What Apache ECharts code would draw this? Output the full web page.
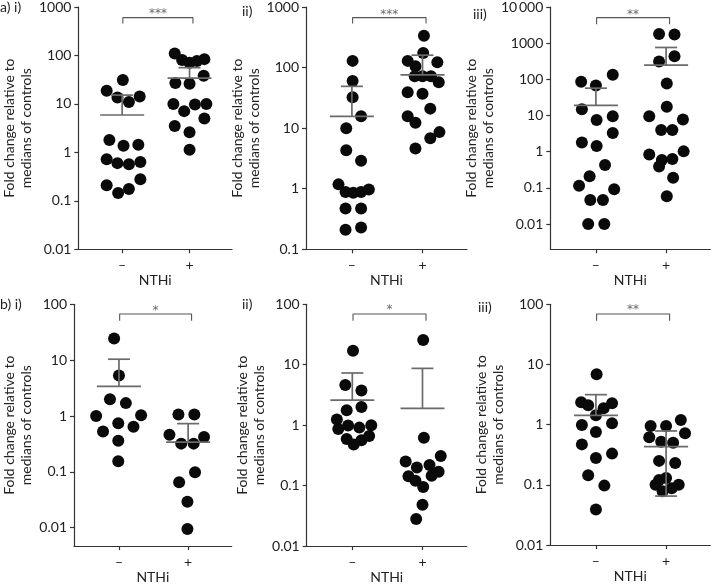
<!DOCTYPE html>
<html>
<head>
<meta charset="utf-8">
<script src="https://cdn.jsdelivr.net/npm/echarts@6/dist/echarts.min.js"></script>
<style>
html,body{margin:0;padding:0;background:#fff;}
#chart{width:714px;height:586px;}
</style>
</head>
<body>
<div id="chart"></div>
<script>
// ---------- text ----------
const panelLabels = ['a) i)', 'ii)', 'iii)', 'b) i)', 'ii)', 'iii)'];
const categories = ['\u2013', '+'];
const xAxisTitle = 'NTHi';
const yAxisTitle = 'Fold change relative to\nmedians of controls';
const significance = ['***', '***', '**', '*', '*', '**'];

// ---------- y tick values ----------
const a1Ticks = [0.01, 0.1, 1, 10, 100, 1000];
const a2Ticks = [0.1, 1, 10, 100, 1000];
const a3Ticks = [0.01, 0.1, 1, 10, 100, 1000, 10000];
const b1Ticks = [0.01, 0.1, 1, 10, 100];
const b2Ticks = [0.01, 0.1, 1, 10, 100];
const b3Ticks = [0.01, 0.1, 1, 10, 100];

// ---------- a) i) ----------
const a1NegValues = [31, 18.6, 13.6, 11, 14.2, 1.8, 1.37, 1.44, 0.72, 0.60, 0.57, 0.63, 0.28, 0.21, 0.145, 0.176];
const a1NegJitter = [0.01, -0.23, -0.07, 0.1, 0.26, -0.19, 0.02, 0.24, -0.23, -0.07, 0.1, 0.27, 0.27, -0.23, -0.06, 0.1];
const a1PosValues = [110, 81, 71, 77, 84, 38, 27, 26, 10, 9.7, 10, 7.1, 5.0, 3.5, 2.6, 1.13];
const a1PosJitter = [-0.22, -0.11, 0, 0.11, 0.22, 0.21, -0.21, 0, -0.24, 0.08, 0.25, -0.08, 0.22, -0.22, 0, 0];
const a1Stats = [[5.9, 15.2, null], [34, 56, null]]; // mean, mean+SD, mean-SD
const a1Bracket = [455, 603, 815]; // end, bar, stars

// ---------- a) ii) ----------
const a2NegValues = [129, 60, 32.4, 15.7, 10, 4.3, 2.9, 1.18, 0.88, 0.86, 0.88, 0.97, 0.47, 0.47, 0.21, 0.23];
const a2NegJitter = [0.01, 0.01, 0.01, 0.13, -0.08, -0.08, 0.13, -0.19, -0.09, 0.02, 0.13, 0.24, -0.09, 0.13, -0.09, 0.13];
const a2PosValues = [335, 174, 129, 105, 122, 72, 72, 72, 57, 39, 37, 21, 15.7, 12.3, 8.6, 6.8, 4.6];
const a2PosJitter = [0.02, 0.01, -0.21, -0.1, 0.21, -0.11, 0, 0.12, 0.23, -0.21, 0, 0.11, -0.21, -0.1, 0.24, 0.11, -0.1];
const a2Stats = [[15.7, 49, null], [76, 160, null]];
const a2Bracket = [532, 668, 828];

// ---------- a) iii) ----------
const a3NegValues = [133, 86, 68, 15, 9.6, 7.5, 3.3, 1.8, 1.43, 0.43, 0.21, 0.115, 0.091, 0.046, 0.046, 0.01, 0.01];
const a3NegJitter = [0.24, -0.21, 0, -0.2, 0.24, 0.01, 0.24, -0.2, 0.01, 0.13, -0.09, -0.24, 0.26, -0.08, 0.1, -0.11, 0.12];
const a3PosValues = [1800, 1730, 437, 310, 77, 17.4, 9.6, 7.8, 4.0, 4.0, 0.83, 1.02, 0.39, 0.59, 0.63, 0.19, 0.059];
const a3PosJitter = [-0.1, 0.12, 0.12, -0.1, 0.01, 0.01, -0.24, 0.24, -0.07, 0.09, -0.24, 0.25, -0.1, -0.06, 0.09, 0.1, 0.01];
const a3Stats = [[19, 57, null], [246, 760, null]];
const a3Bracket = [3320, 5100, 7280];

// ---------- b) i) ----------
const b1NegValues = [24.3, 5.3, 2.0, 1.7, 1.0, 1.03, 0.74, 0.53, 0.64, 0.36, 0.155];
const b1NegJitter = [-0.07, 0, -0.13, 0.1, -0.33, 0.32, -0.01, -0.23, 0.21, -0.01, -0.01];
const b1PosValues = [1.06, 1.06, 0.46, 0.42, 0.32, 0.32, 0.098, 0.065, 0.029, 0.0095];
const b1PosJitter = [-0.14, 0.09, -0.27, 0.23, -0.1, 0.08, 0.1, -0.13, -0.01, -0.01];
const b1Stats = [[3.4, 10.4, null], [0.34, 0.73, null]];
const b1Bracket = [51, 67, 88];

// ---------- b) ii) ----------
const b2NegValues = [17, 4.6, 3.76, 1.77, 1.99, 1.24, 0.99, 0.86, 0.91, 1.0, 0.59, 0.48, 0.56, 0.66];
const b2NegJitter = [0.01, -0.1, 0.13, -0.08, 0.13, -0.22, -0.06, -0.2, 0.1, 0.27, -0.08, 0.02, 0.13, 0.24];
const b2PosValues = [25.6, 0.62, 0.25, 0.20, 0.22, 0.31, 0.143, 0.12, 0.095, 0.145, 0.17, 0.048, 0.028];
const b2PosJitter = [0.01, 0.02, -0.24, -0.08, 0.1, 0.26, -0.2, -0.1, 0.01, 0.13, 0.23, 0, -0.09];
const b2Stats = [[2.6, 7.3, null], [1.9, 8.7, null]];
const b2Bracket = [53.5, 69, 89];

// ---------- b) iii) ----------
const b3NegValues = [6.9, 2.35, 2.1, 2.26, 1.88, 1.43, 0.99, 1.05, 0.755, 0.47, 0.33, 0.28, 0.144, 0.097, 0.039];
const b3NegJitter = [0.01, -0.21, -0.11, 0.23, 0.11, 0, -0.2, 0.23, 0, -0.2, 0.23, 0, -0.11, 0.12, 0];
const b3PosValues = [0.95, 0.95, 1.2, 0.72, 0.62, 0.52, 0.50, 0.25, 0.23, 0.12, 0.13, 0.1, 0.10, 0.078, 0.088];
const b3PosJitter = [-0.22, 0, 0.21, 0.27, -0.24, -0.07, 0.1, -0.1, 0.13, -0.1, 0, -0.15, 0.18, -0.05, 0.08];
const b3Stats = [[1.43, 3.15, null], [0.43, 0.785, 0.065]];
const b3Bracket = [53.5, 69, 89];

// ---------- assemble ----------
const panels = [
  {ticks: a1Ticks, neg: [a1NegValues, a1NegJitter], pos: [a1PosValues, a1PosJitter], stats: a1Stats, br: a1Bracket, ymin: 0.01, ymax: 1000},
  {ticks: a2Ticks, neg: [a2NegValues, a2NegJitter], pos: [a2PosValues, a2PosJitter], stats: a2Stats, br: a2Bracket, ymin: 0.1, ymax: 1000},
  {ticks: a3Ticks, neg: [a3NegValues, a3NegJitter], pos: [a3PosValues, a3PosJitter], stats: a3Stats, br: a3Bracket, ymin: 0.002, ymax: 10000},
  {ticks: b1Ticks, neg: [b1NegValues, b1NegJitter], pos: [b1PosValues, b1PosJitter], stats: b1Stats, br: b1Bracket, ymin: 0.0047, ymax: 100},
  {ticks: b2Ticks, neg: [b2NegValues, b2NegJitter], pos: [b2PosValues, b2PosJitter], stats: b2Stats, br: b2Bracket, ymin: 0.01, ymax: 100},
  {ticks: b3Ticks, neg: [b3NegValues, b3NegJitter], pos: [b3PosValues, b3PosJitter], stats: b3Stats, br: b3Bracket, ymin: 0.01, ymax: 100}
];

// layout (pixels)
const grids = [
  {left: 71, top: 6.7, width: 161, height: 242.6, gap: 37},
  {left: 306, top: 6.7, width: 161, height: 242.6, gap: 35},
  {left: 550.3, top: 6.7, width: 160, height: 242.6, gap: 40},
  {left: 71.7, top: 304.3, width: 160, height: 241.7, gap: 39},
  {left: 306.7, top: 304.3, width: 160, height: 241.7, gap: 37},
  {left: 550.3, top: 304.3, width: 160, height: 240.7, gap: 43}
];
const labelPos = [[0, 0], [242, 4], [473, 7], [0, 297], [242, 297], [478, 300]];

const FONT = 'Lato';
const TXT = '#222';
const AX = '#333';
const BAR = '#6a6a6a';

function fmtY(v) {
  if (v >= 10000) return '10\u2009000';
  return String(+v.toPrecision(3));
}

const option = {
  animation: false,
  backgroundColor: '#fff',
  textStyle: {fontFamily: FONT},
  title: panelLabels.map((t, i) => ({
    text: t, left: labelPos[i][0], top: labelPos[i][1], padding: 0,
    textStyle: {fontFamily: FONT, fontSize: 14, fontWeight: 'normal', color: TXT}
  })),
  grid: grids.map(g => ({left: g.left, top: g.top, width: g.width, height: g.height, containLabel: false})),
  xAxis: grids.map((g, i) => ({
    type: 'value', gridIndex: i, min: 0.35, max: 2.63,
    name: xAxisTitle, nameLocation: 'middle', nameGap: 24,
    nameTextStyle: {fontFamily: FONT, fontSize: 14, color: TXT},
    axisLine: {show: true, lineStyle: {color: AX, width: 1.2}},
    axisTick: {show: true, length: 4, customValues: [1, 2], lineStyle: {color: AX, width: 1.2}},
    axisLabel: {show: true, customValues: [1, 2], margin: 9, fontFamily: FONT, fontSize: 14, color: TXT,
      formatter: v => categories[Math.round(v) - 1] || ''},
    splitLine: {show: false}
  })),
  yAxis: panels.map((p, i) => ({
    type: 'log', logBase: 10, gridIndex: i, min: p.ymin, max: p.ymax,
    name: yAxisTitle, nameLocation: 'middle', nameGap: grids[i].gap, nameRotate: 90,
    nameTextStyle: {fontFamily: FONT, fontSize: 14, color: TXT, lineHeight: 17},
    axisLine: {show: true, lineStyle: {color: AX, width: 1.2}},
    axisTick: {show: true, length: 4, customValues: p.ticks, lineStyle: {color: AX, width: 1.2}},
    axisLabel: {show: true, customValues: p.ticks, margin: 7, fontFamily: FONT, fontSize: 14, color: TXT, formatter: fmtY},
    splitLine: {show: false}
  })),
  series: []
};

panels.forEach((p, i) => {
  const pts = [];
  p.neg[0].forEach((v, k) => pts.push([1 + p.neg[1][k], v]));
  p.pos[0].forEach((v, k) => pts.push([2 + p.pos[1][k], v]));
  option.series.push({
    type: 'scatter', xAxisIndex: i, yAxisIndex: i, data: pts,
    symbol: 'circle', symbolSize: 12, itemStyle: {color: '#0a0a0a', opacity: 1}, silent: true, z: 3
  });
  option.series.push({
    type: 'custom', xAxisIndex: i, yAxisIndex: i, silent: true, z: 4,
    data: p.stats.map((s, k) => [k + 1, s[0], s[1], s[2] == null ? '-' : s[2]]),
    encode: {x: 0, y: [1, 2]},
    renderItem: function (params, api) {
      const x = api.value(0), m = api.value(1), up = api.value(2), lo = api.value(3);
      const cm = api.coord([x, m]);
      const st = {stroke: BAR, lineWidth: 1.7};
      const ch = [{type: 'line', shape: {x1: cm[0] - 22, y1: cm[1], x2: cm[0] + 22, y2: cm[1]}, style: st}];
      if (!isNaN(up)) {
        const cu = api.coord([x, up]);
        ch.push({type: 'line', shape: {x1: cm[0], y1: cm[1], x2: cu[0], y2: cu[1]}, style: st});
        ch.push({type: 'line', shape: {x1: cu[0] - 11, y1: cu[1], x2: cu[0] + 11, y2: cu[1]}, style: st});
      }
      if (!isNaN(lo) && lo > 0) {
        const cl = api.coord([x, lo]);
        ch.push({type: 'line', shape: {x1: cm[0], y1: cm[1], x2: cl[0], y2: cl[1]}, style: st});
        ch.push({type: 'line', shape: {x1: cl[0] - 11, y1: cl[1], x2: cl[0] + 11, y2: cl[1]}, style: st});
      }
      return {type: 'group', children: ch};
    }
  });
  option.series.push({
    type: 'line', xAxisIndex: i, yAxisIndex: i, silent: true, showSymbol: false, symbol: 'none',
    lineStyle: {color: '#555', width: 1.1},
    data: [[1.01, p.br[0]], [1.01, p.br[1]], [2.05, p.br[1]], [2.05, p.br[0]]]
  });
  option.series.push({
    type: 'scatter', xAxisIndex: i, yAxisIndex: i, silent: true, symbolSize: 0.1,
    itemStyle: {color: 'rgba(0,0,0,0)'},
    data: [[1.53, p.br[2]]],
    label: {show: true, position: 'inside', offset: [0, 3], formatter: significance[i],
      fontFamily: 'DejaVu Sans', fontSize: 12, color: '#444'}
  });
});

const chart = echarts.init(document.getElementById('chart'), null, {renderer: 'canvas'});
chart.setOption(option);
</script>
</body>
</html>
